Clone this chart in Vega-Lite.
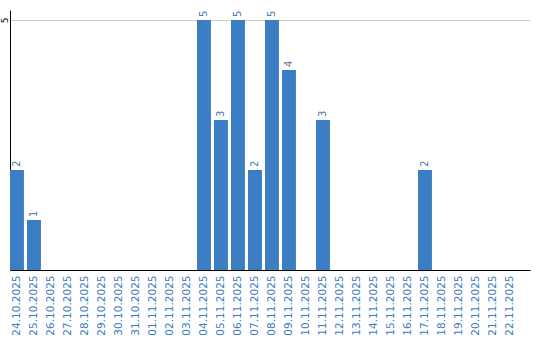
{
  "$schema": "https://vega.github.io/schema/vega-lite/v6.json",
  "width": 520,
  "height": 260,
  "autosize": "none",
  "padding": {"left": 10, "top": 10, "right": 10, "bottom": 70},
  "config": {"view": {"stroke": null}, "font": "DejaVu Sans"},
  "data": {"values": [
    {"d": "24.10.2025", "v": 2}, {"d": "25.10.2025", "v": 1}, {"d": "26.10.2025", "v": 0},
    {"d": "27.10.2025", "v": 0}, {"d": "28.10.2025", "v": 0}, {"d": "29.10.2025", "v": 0},
    {"d": "30.10.2025", "v": 0}, {"d": "31.10.2025", "v": 0}, {"d": "01.11.2025", "v": 0},
    {"d": "02.11.2025", "v": 0}, {"d": "03.11.2025", "v": 0}, {"d": "04.11.2025", "v": 5},
    {"d": "05.11.2025", "v": 3}, {"d": "06.11.2025", "v": 5}, {"d": "07.11.2025", "v": 2},
    {"d": "08.11.2025", "v": 5}, {"d": "09.11.2025", "v": 4}, {"d": "10.11.2025", "v": 0},
    {"d": "11.11.2025", "v": 3}, {"d": "12.11.2025", "v": 0}, {"d": "13.11.2025", "v": 0},
    {"d": "14.11.2025", "v": 0}, {"d": "15.11.2025", "v": 0}, {"d": "16.11.2025", "v": 0},
    {"d": "17.11.2025", "v": 2}, {"d": "18.11.2025", "v": 0}, {"d": "19.11.2025", "v": 0},
    {"d": "20.11.2025", "v": 0}, {"d": "21.11.2025", "v": 0}, {"d": "22.11.2025", "v": 0}
  ]},
  "encoding": {
    "x": {
      "field": "d", "type": "nominal", "sort": null,
      "scale": {"paddingInner": 0.18, "paddingOuter": 0.384, "align": 0},
      "axis": {
        "title": null, "labelAngle": -90, "labelAlign": "right", "labelBaseline": "middle",
        "labelColor": "#3a7cc0", "labelFontSize": 10.5, "ticks": false, "labelPadding": 5,
        "domainColor": "#000000", "domainWidth": 1, "labelOverlap": false
      }
    },
    "y": {
      "field": "v", "type": "quantitative",
      "scale": {"domain": [0, 5.2], "nice": false},
      "axis": {
        "title": null, "values": [5], "labelAngle": -90, "labelAlign": "center",
        "labelBaseline": "middle", "labelFontSize": 9, "labelColor": "#000000",
        "ticks": false, "labelPadding": 6, "domainColor": "#000000", "domainWidth": 1,
        "gridColor": "#cccccc", "grid": true
      }
    }
  },
  "layer": [
    {"mark": {"type": "bar", "color": "#3b7ec4"}},
    {
      "transform": [{"filter": "datum.v > 0"}],
      "mark": {"type": "text", "angle": -90, "align": "left", "baseline": "middle", "dx": 3, "fontSize": 10, "color": "#4a78ad"},
      "encoding": {"text": {"field": "v", "type": "quantitative"}}
    }
  ]
}
